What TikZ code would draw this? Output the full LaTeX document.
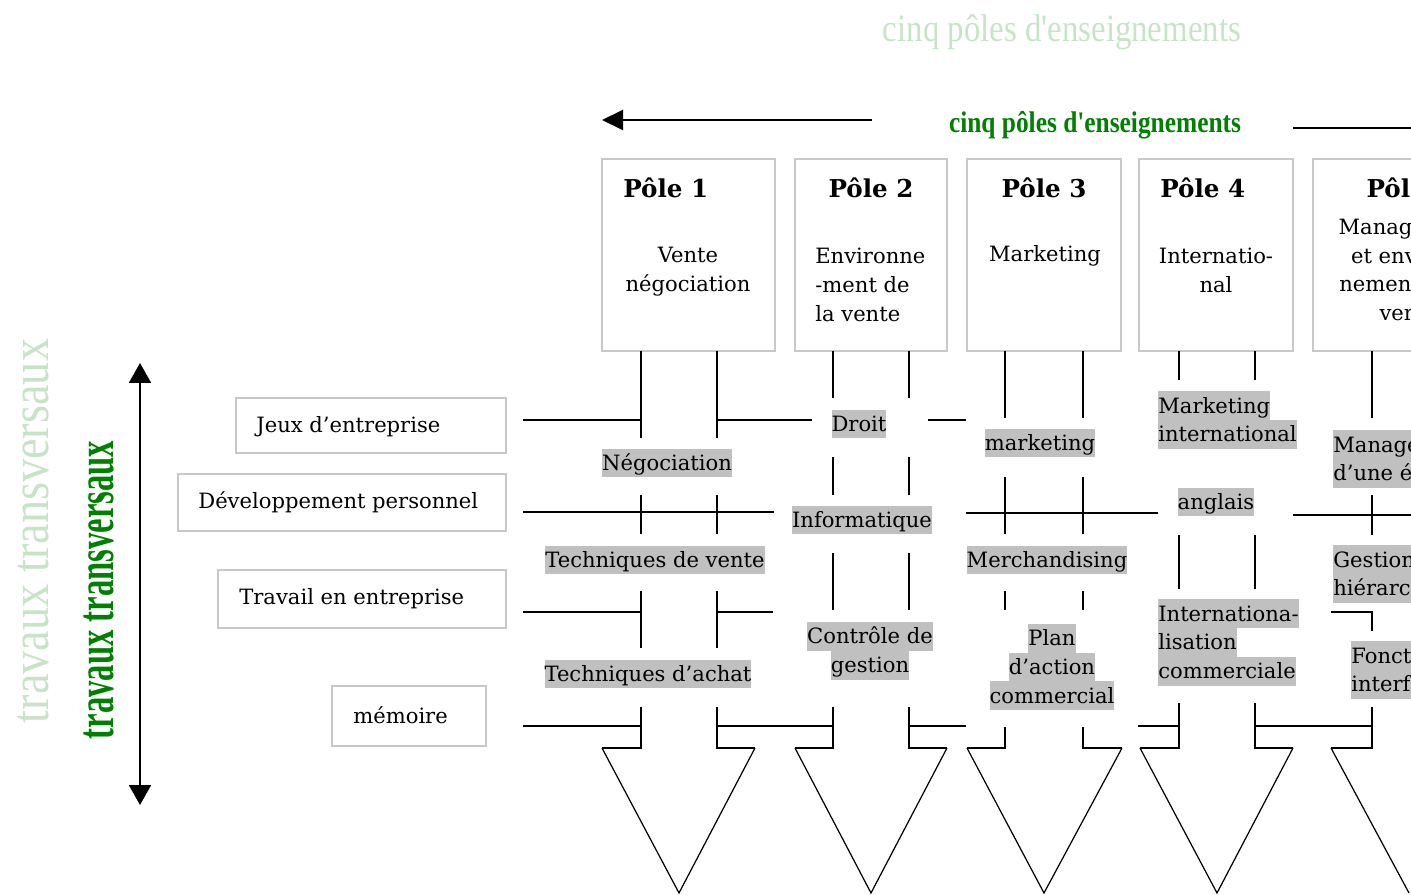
\documentclass[tikz,border=0pt]{standalone}
\usepackage{fontspec}
\setmainfont{DejaVu Serif}
\newfontfamily\shadowfont[FakeStretch=0.85]{Liberation Serif}
\newfontfamily\headfont[FakeStretch=0.85]{Liberation Serif}
\newfontfamily\sidefont[FakeStretch=0.62]{Liberation Serif}
\usetikzlibrary{arrows.meta}
\definecolor{labelgray}{RGB}{192,192,192}
\definecolor{boxgray}{RGB}{200,200,200}
\definecolor{polegreen}{RGB}{0,128,0}
\definecolor{palegreen}{RGB}{200,228,200}
\setlength{\fboxsep}{0pt}
\newcommand{\bodyfont}{\fontsize{12}{16.4}\selectfont}
\newcommand{\hl}[1]{\colorbox{labelgray}{\rule[-4pt]{0pt}{16.4pt}#1}}
\tikzset{
  polebox/.style={draw=boxgray, line width=1pt},
  sidebox/.style={draw=boxgray, line width=1pt},
  shaft/.style={line width=1.1pt},
  head/.style={line width=0.7pt},
  poletitle/.style={inner sep=0pt, font=\bfseries\fontsize{14}{16}\selectfont},
  poletext/.style={inner sep=0pt, font=\bodyfont},
  course/.style={inner sep=0pt, font=\bodyfont, align=center}
}

\begin{document}
\begin{tikzpicture}[x=0.02cm, y=-0.02cm]
\useasboundingbox (0,0) rectangle (1411,895);
\clip (0,0) rectangle (1411,895);

\node[text=palegreen, font=\shadowfont\fontsize{22}{24}\selectfont] (shadowtop) at (1062,32) {cinq pôles d'enseignements};
\node[text=polegreen, font=\headfont\bfseries\fontsize{17}{19}\selectfont] (headtop) at (1095,125) {cinq pôles d'enseignements};
\node[rotate=90, text=palegreen, font=\shadowfont\fontsize{31}{33}\selectfont] (shadowleft) at (33,531) {travaux transversaux};
\node[rotate=90, text=polegreen, font=\sidefont\bfseries\fontsize{30}{32}\selectfont] (headleft) at (99,590) {travaux transversaux};

\coordinate (arrowL) at (602,120);
\coordinate (arrowR) at (872,120);
\draw[shaft, -{Triangle[length=0.42cm, width=0.4cm]}] (arrowR) -- (arrowL);
\draw[shaft] (1293,128) -- (1480,128);
\coordinate (updown1) at (140,363);
\coordinate (updown2) at (140,805);
\draw[shaft, {Triangle[length=0.4cm, width=0.44cm]}-{Triangle[length=0.4cm, width=0.44cm]}] (updown1) -- (updown2);

\foreach \l/\r in {602/775, 795/947, 967/1121, 1139/1293, 1313/1505}
  \draw[polebox] (\l,159) rectangle (\r,351);

\node[poletitle, anchor=west] (p1title) at (623,188) {Pôle 1};
\node[poletitle] (p2title) at (871,188) {Pôle 2};
\node[poletitle] (p3title) at (1044,188) {Pôle 3};
\node[poletitle, anchor=west] (p4title) at (1160,188) {Pôle 4};
\node[poletitle] (p5title) at (1409,188) {Pôle 5};

\node[poletext, align=center] (p1text) at (688,272) {Vente\\négociation};
\node[poletext, align=left, anchor=west] (p2text) at (815,285) {Environne\\-ment de\\la vente};
\node[poletext] (p3text) at (1045,256) {Marketing};
\node[poletext, align=center] (p4text) at (1216,270) {Internatio-\\nal};
\node[poletext, align=center] (p5text) at (1409,270) {Management\\et environ-\\nement de la\\vente};

\draw[sidebox] (236,398) rectangle (506,453);
\draw[sidebox] (178,474) rectangle (506,531);
\draw[sidebox] (218,570) rectangle (506,628);
\draw[sidebox] (332,686) rectangle (486,746);
\node[poletext, anchor=west] (jeux) at (256,427) {Jeux d’entreprise};
\node[poletext, anchor=west] (devperso) at (198,502) {Développement personnel};
\node[poletext, anchor=west] (travail) at (239,599) {Travail en entreprise};
\node[poletext, anchor=west] (memoire) at (353,715) {mémoire};

\foreach \a/\b in {351/438, 495/534, 591/648}
  \draw[shaft] (641,\a) -- (641,\b) (717,\a) -- (717,\b);
\draw[shaft] (641,707) -- (641,748) -- (602,748) (717,707) -- (717,748) -- (755,748);
\draw[head] (602,748) -- (679,893) -- (755,748);

\foreach \a/\b in {351/398, 457/495, 553/610}
  \draw[shaft] (833,\a) -- (833,\b) (909,\a) -- (909,\b);
\draw[shaft] (833,707) -- (833,748) -- (795,748) (909,707) -- (909,748) -- (947,748);
\draw[head] (795,748) -- (871,893) -- (947,748);

\foreach \a/\b in {351/418, 477/534, 591/610}
  \draw[shaft] (1005,\a) -- (1005,\b) (1083,\a) -- (1083,\b);
\draw[shaft] (1005,727) -- (1005,748) -- (967,748) (1083,727) -- (1083,748) -- (1122,748);
\draw[head] (967,748) -- (1044,893) -- (1122,748);

\foreach \a/\b in {351/380, 535/589}
  \draw[shaft] (1179,\a) -- (1179,\b) (1255,\a) -- (1255,\b);
\draw[shaft] (1179,703) -- (1179,748) -- (1140,748) (1255,703) -- (1255,748) -- (1293,748);
\draw[head] (1140,748) -- (1217,893) -- (1293,748);

\foreach \a/\b in {351/418, 495/535}
  \draw[shaft] (1372,\a) -- (1372,\b);
\draw[shaft] (1372,707) -- (1372,748) -- (1331,748);
\draw[head] (1331,748) -- (1409,893);

\draw[shaft] (523,420) -- (641,420) (717,420) -- (812,420) (928,420) -- (966,420);
\draw[shaft] (523,512) -- (774,512) (966,513) -- (1158,513) (1293,515) -- (1480,515);
\draw[shaft] (523,612) -- (641,612) (717,612) -- (773,612) (1331,612) -- (1372,612) -- (1372,631);
\draw[shaft] (523,726) -- (641,726) (717,726) -- (833,726) (909,726) -- (966,726) (1138,726) -- (1179,726) (1255,726) -- (1372,726);

\node[course] (nego) at (667,463) {\hl{Négociation}};
\node[course] (techvente) at (655,560) {\hl{Techniques de vente}};
\node[course] (techachat) at (648,674) {\hl{Techniques d’achat}};
\node[course] (droit) at (859,424) {\hl{Droit}};
\node[course] (info) at (862,520) {\hl{Informatique}};
\node[course] (controle) at (870,651) {\hl{Contrôle de}\\\hl{gestion}};
\node[course] (mkt) at (1040,443) {\hl{marketing}};
\node[course] (merch) at (1047,560) {\hl{Merchandising}};
\node[course] (plan) at (1052,667) {\hl{Plan}\\\hl{d’action}\\\hl{commercial}};
\node[course, align=left, anchor=north west] (mktint) at (1158,391) {\hl{Marketing}\\\hl{international}};
\node[course] (anglais) at (1216,502) {\hl{anglais}};
\node[course, align=left, anchor=north west] (intercom) at (1158,599) {\hl{Internationa-}\\\hl{lisation}\\\hl{commerciale}};
\node[course, align=left, anchor=north west] (equipe) at (1333,430) {\hl{Management}\\\hl{d’une équipe}};
\node[course, align=left, anchor=north west] (hierarchie) at (1333,545) {\hl{Gestion}\\\hl{hiérarchique}};
\node[course, align=left, anchor=north west] (interface) at (1351,641) {\hl{Fonction}\\\hl{interface}};
\end{tikzpicture}
\end{document}
